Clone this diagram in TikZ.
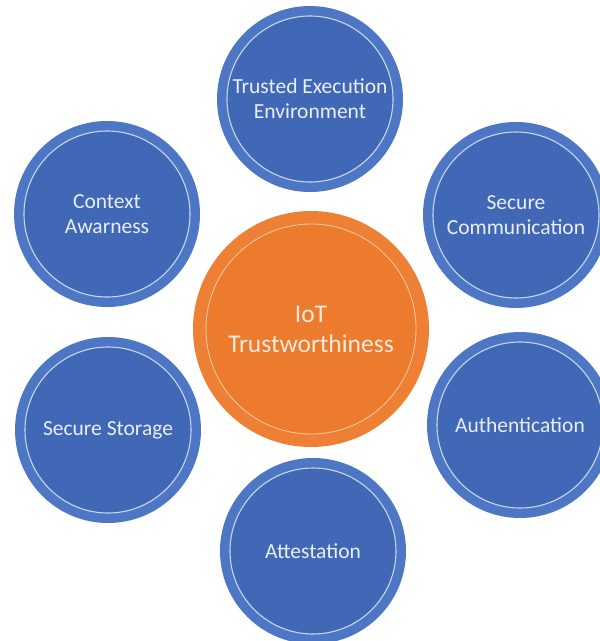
\documentclass[tikz,border=0pt]{standalone}
\usepackage{fontspec}
\setmainfont{Carlito}
\definecolor{bandblue}{HTML}{4D77C4}
\definecolor{innerblue}{HTML}{4068B6}
\definecolor{ringblue}{HTML}{C8D5EF}
\definecolor{bandorange}{HTML}{EE8036}
\definecolor{innerorange}{HTML}{EC7B2E}
\definecolor{ringorange}{HTML}{F7CBA6}
\definecolor{bluetext}{HTML}{E9EEF8}
\definecolor{orangetext}{HTML}{FBEADC}
\tikzset{
  topic/.style={circle, fill=bandblue, minimum size=186pt, inner sep=0pt,
    align=center, text=bluetext, font=\fontsize{21.5}{25}\selectfont,
    path picture={
      \fill[innerblue] (path picture bounding box.center) circle (83pt);
      \draw[ringblue, line width=1.1pt] (path picture bounding box.center) circle (83pt);
    }},
  hub/.style={circle, fill=bandorange, minimum size=236pt, inner sep=0pt,
    align=center, text=orangetext, font=\fontsize{25.5}{30}\selectfont,
    path picture={
      \fill[innerorange] (path picture bounding box.center) circle (105pt);
      \draw[ringorange, line width=0.8pt] (path picture bounding box.center) circle (105pt);
    }}
}
\begin{document}
\begin{tikzpicture}[x=1pt, y=-1pt]
  \useasboundingbox (0,0) rectangle (600,641);
  \clip (0,0) rectangle (600,641);
  \fill[white] (0,0) rectangle (600,641);
  \node[hub] (iot) at (311,329) {IoT\\Trustworthiness};
  \node[topic] (tee) at (310,99) {Trusted Execution\\Environment};
  \node[topic] (ctx) at (107,214) {Context\\Awarness};
  \node[topic] (comm) at (516,215) {Secure\\Communication};
  \node[topic] (stor) at (108,430) {Secure Storage};
  \node[topic] (auth) at (520,425) {Authentication};
  \node[topic] (att) at (313,551) {Attestation};
\end{tikzpicture}
\end{document}
